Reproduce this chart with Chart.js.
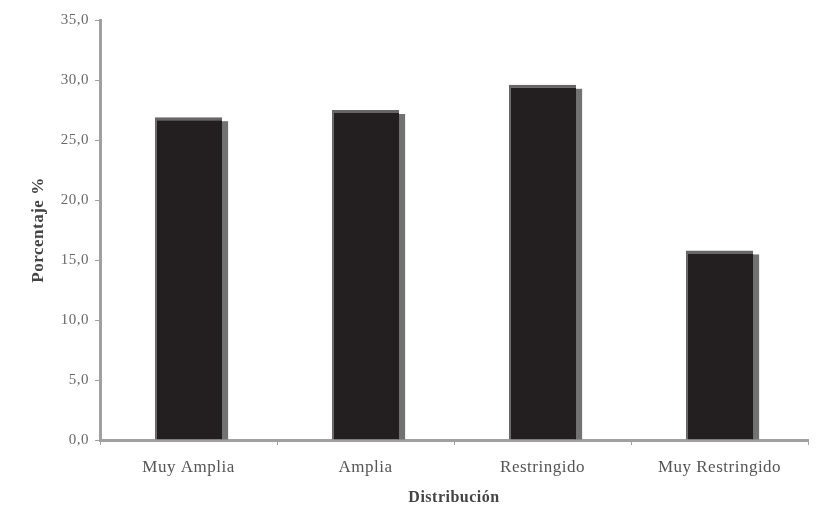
<!DOCTYPE html>
<html>
<head>
<meta charset="utf-8">
<script src="https://cdn.jsdelivr.net/npm/chart.js@4"></script>
<style>
  html, body { margin: 0; padding: 0; background: #fff; }
  #wrap { width: 820px; height: 507px; }
</style>
</head>
<body>
<div id="wrap"><canvas id="c" width="820" height="507"></canvas></div>
<script>
// datos
const categorias = ['Muy Amplia', 'Amplia', 'Restringido', 'Muy Restringido'];
const porcentajes = [26.9, 27.5, 29.6, 15.8];
const yMax = 35;
const yPaso = 5;
const tituloY = 'Porcentaje %';
const tituloX = 'Distribución';

// texto un poco mas ancho, como en la imagen original
const espaciado = {
  id: 'espaciado',
  beforeLayout(chart){ chart.ctx.letterSpacing = '0.5px'; },
  beforeDraw(chart){ chart.ctx.letterSpacing = '0.5px'; }
};

// sombra gris a la derecha de cada barra
const sombra = {
  id: 'sombra',
  beforeDatasetsDraw(chart){
    const ctx = chart.ctx;
    const meta = chart.getDatasetMeta(0);
    ctx.save();
    ctx.fillStyle = '#727272';
    meta.data.forEach(bar => {
      const p = bar.getProps(['x', 'y', 'base', 'width'], true);
      ctx.fillRect(p.x + p.width / 2 - 1, p.y + 4, 7, p.base - p.y - 4);
    });
    ctx.restore();
  }
};

new Chart(document.getElementById('c'), {
  type: 'bar',
  data: {
    labels: categorias,
    datasets: [{
      data: porcentajes,
      backgroundColor: '#231f20',
      borderColor: '#666',
      borderWidth: { top: 3, left: 2, right: 0, bottom: 0 },
      borderSkipped: false,
      categoryPercentage: 1,
      barPercentage: 0.38
    }]
  },
  options: {
    responsive: false,
    animation: false,
    layout: { padding: { top: 20, right: 12, left: 0, bottom: 0 } },
    plugins: { legend: { display: false }, tooltip: { enabled: false } },
    scales: {
      x: {
        afterFit(s){ s.height = 67; },
        border: { color: '#a0a0a0', width: 3 },
        grid: { drawOnChartArea: false, drawTicks: true, tickLength: 5, color: '#a0a0a0', lineWidth: 1 },
        ticks: {
          padding: 12,
          color: '#555',
          font: { family: 'Liberation Serif', size: 17 }
        },
        title: {
          display: true,
          text: tituloX,
          color: '#444',
          padding: { top: 0, bottom: 0 },
          font: { family: 'Liberation Serif', size: 16, weight: 'bold' }
        }
      },
      y: {
        min: 0,
        max: yMax,
        afterFit(s){ s.width = 100; },
        border: { color: '#a0a0a0', width: 3 },
        grid: { drawOnChartArea: false, drawTicks: true, tickLength: 5, color: '#a0a0a0' },
        ticks: {
          stepSize: yPaso,
          padding: 6,
          color: '#6a6a6a',
          font: { family: 'Liberation Serif', size: 15 },
          callback: v => v.toFixed(1).replace('.', ',')
        },
        title: {
          display: true,
          text: tituloY,
          color: '#444',
          padding: { top: 28, bottom: 0 },
          font: { family: 'Liberation Serif', size: 17, weight: 'bold' }
        }
      }
    }
  },
  plugins: [espaciado, sombra]
});
</script>
</body>
</html>
